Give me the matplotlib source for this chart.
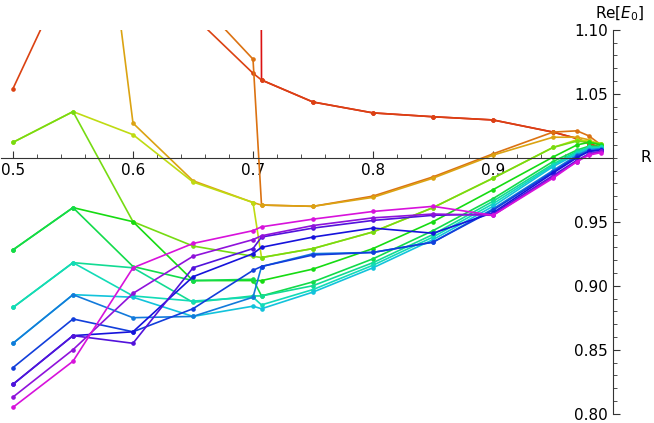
import matplotlib
matplotlib.use("Agg")
import matplotlib.pyplot as plt
from matplotlib.ticker import MultipleLocator, FixedLocator
import colorsys

R = [0.5, 0.55, 0.6, 0.65, 0.7, 0.7071, 0.75, 0.8, 0.85, 0.9, 0.95, 0.97, 0.98, 0.99]

hues = [0.0, 0.04, 0.08, 0.12, 0.19, 0.25, 0.33, 0.38, 0.44, 0.47, 0.52, 0.58, 0.63, 0.67, 0.72, 0.77, 0.83]

s01 = [3.0, 3.0, 3.0, 3.0, 3.0, 1.0607, 1.0435, 1.035, 1.032, 1.0295, 1.020, 1.015, 1.011, 1.008]
s02 = [1.054, 1.154, 1.25, 1.111, 1.066, 1.0607, 1.0435, 1.035, 1.032, 1.0295, 1.020, 1.015, 1.011, 1.008]
s03 = [1.5, 1.4, 1.3, 1.127, 1.077, 0.963, 0.962, 0.970, 0.985, 1.003, 1.020, 1.021, 1.017, 1.010]
s04 = [1.5, 1.4, 1.027, 0.982, 0.965, 0.963, 0.962, 0.969, 0.984, 1.002, 1.016, 1.016, 1.014, 1.009]
s05 = [1.012, 1.036, 1.018, 0.981, 0.965, 0.922, 0.929, 0.942, 0.961, 0.984, 1.008, 1.014, 1.013, 1.011]
s06 = [1.012, 1.036, 0.950, 0.931, 0.923, 0.922, 0.929, 0.942, 0.961, 0.984, 1.008, 1.013, 1.012, 1.011]
s07 = [0.928, 0.961, 0.950, 0.904, 0.904, 0.904, 0.913, 0.929, 0.950, 0.975, 1.0005, 1.010, 1.012, 1.010]
s08 = [0.928, 0.961, 0.915, 0.904, 0.905, 0.892, 0.903, 0.921, 0.943, 0.968, 0.997, 1.006, 1.009, 1.009]
s09 = [0.883, 0.918, 0.914, 0.887, 0.892, 0.892, 0.900, 0.918, 0.940, 0.966, 0.995, 1.005, 1.008, 1.008]
s10 = [0.883, 0.918, 0.892, 0.888, 0.891, 0.885, 0.897, 0.916, 0.938, 0.964, 0.994, 1.004, 1.008, 1.008]
s11 = [0.855, 0.893, 0.891, 0.876, 0.884, 0.882, 0.895, 0.914, 0.936, 0.962, 0.993, 1.003, 1.007, 1.007]
s12 = [0.855, 0.893, 0.875, 0.876, 0.891, 0.915, 0.925, 0.926, 0.934, 0.960, 0.990, 1.002, 1.006, 1.007]
s13 = [0.836, 0.874, 0.864, 0.882, 0.912, 0.915, 0.924, 0.926, 0.934, 0.959, 0.989, 1.001, 1.005, 1.006]
s14 = [0.823, 0.861, 0.864, 0.907, 0.925, 0.930, 0.938, 0.945, 0.941, 0.957, 0.988, 1.000, 1.005, 1.006]
s15 = [0.823, 0.861, 0.855, 0.914, 0.929, 0.938, 0.945, 0.951, 0.955, 0.956, 0.986, 0.998, 1.003, 1.005]
s16 = [0.813, 0.850, 0.894, 0.923, 0.936, 0.939, 0.947, 0.953, 0.956, 0.955, 0.985, 0.997, 1.003, 1.005]
s17 = [0.805, 0.841, 0.914, 0.933, 0.943, 0.946, 0.952, 0.958, 0.962, 0.955, 0.984, 0.997, 1.002, 1.004]

series = [s01, s02, s03, s04, s05, s06, s07, s08, s09, s10, s11, s12, s13, s14, s15, s16, s17]

fig = plt.figure(figsize=(6.54, 4.23), dpi=100)
ax = fig.add_axes([1/654, 9.3/423, 612/654, 384/423])
for i, (h, ys) in enumerate(zip(hues, series)):
    c = colorsys.hsv_to_rgb(h, 0.92, 0.86)
    ax.plot(R, ys, color=c, lw=1.2, marker='o', ms=2.3, mec=c, mfc=c,
            zorder=1 if i == 0 else 2)

ax.set_xlim(0.49, 1.0)
ax.set_ylim(0.80, 1.10)
for s in ['top', 'right']:
    ax.spines[s].set_visible(False)
ax.spines['left'].set_position(('data', 1.0))
ax.spines['bottom'].set_position(('data', 1.0))
for s in ['left', 'bottom']:
    ax.spines[s].set_color('#333333')
ax.xaxis.set_major_locator(FixedLocator([0.5, 0.6, 0.7, 0.8, 0.9]))
ax.xaxis.set_minor_locator(MultipleLocator(0.02))
ax.yaxis.set_major_locator(FixedLocator([0.80, 0.85, 0.90, 0.95, 1.05, 1.10]))
ax.yaxis.set_minor_locator(MultipleLocator(0.01))
ax.xaxis.set_major_formatter(plt.FuncFormatter(lambda v, p: f"{v:.1f}"))
ax.yaxis.set_major_formatter(plt.FuncFormatter(lambda v, p: f"{v:.2f}"))
ax.tick_params(axis='both', which='major', direction='in', length=5, width=0.8, labelsize=11, colors='#333333', labelcolor='black')
ax.tick_params(axis='both', which='minor', direction='in', length=3, width=0.6, colors='#333333')
ax.tick_params(axis='x', pad=4)
fig.text(640/654, 1 - 157/423, "R", fontsize=11, va='center', ha='left')
fig.text(620/654, 1 - 14/423, r"Re[$E_0$]", fontsize=11, va='center', ha='center')
fig.savefig("out.png", dpi=100)
